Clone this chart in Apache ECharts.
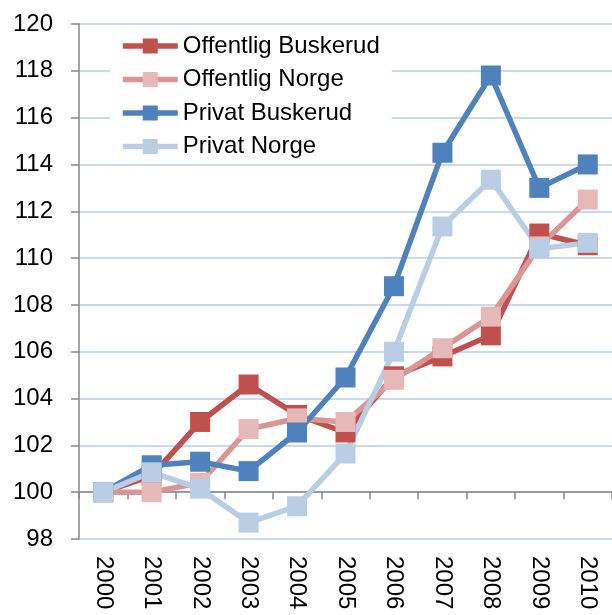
<!DOCTYPE html>
<html>
<head>
<meta charset="utf-8">
<script src="https://cdn.jsdelivr.net/npm/echarts@6/dist/echarts.min.js"></script>
<style>
  html, body { margin: 0; padding: 0; background: #fff; }
  #chart { width: 612px; height: 615px; }
</style>
</head>
<body>
<div id="chart"></div>
<script>
const years = ["2000", "2001", "2002", "2003", "2004", "2005", "2006", "2007", "2008", "2009", "2010"];
const offentligBuskerud = [100, 100.7, 103.0, 104.6, 103.3, 102.55, 104.95, 105.8, 106.7, 111.05, 110.55];
const offentligNorge = [100, 100.0, 100.4, 102.7, 103.15, 103.0, 104.8, 106.15, 107.5, 110.5, 112.5];
const privatBuskerud = [100, 101.15, 101.3, 100.9, 102.55, 104.9, 108.8, 114.5, 117.8, 113.0, 114.0];
const privatNorge = [100, 100.85, 100.15, 98.7, 99.4, 101.65, 106.0, 111.35, 113.35, 110.4, 110.65];

const yMin = 98;
const yMax = 120;
const crossAt = 100;

const font = "'Liberation Sans', Arial, sans-serif";
const axisGray = "#868686";
const gridBlue = "#b9cde5";

const chartHeight = 615;
const gridTop = 24;
const gridBottom = 76;
const gridHeight = chartHeight - gridTop - gridBottom;
// excel-style x axis line crossing the value axis at 100
const crossOffset = -gridHeight * (crossAt - yMin) / (yMax - yMin);

function lineSeries(name, data, lineColor, markerColor) {
  return {
    name: name,
    type: "line",
    data: data,
    symbol: "rect",
    symbolSize: 20,
    showSymbol: true,
    lineStyle: { color: lineColor, width: 5.5 },
    itemStyle: { color: markerColor, borderColor: markerColor, borderWidth: 0 },
    emphasis: { disabled: true }
  };
}

let chart = echarts.init(document.getElementById("chart"));
chart.setOption({
  animation: false,
  textStyle: { fontFamily: font },
  grid: { left: 79, right: -10, top: gridTop, bottom: gridBottom, containLabel: false },
  legend: {
    orient: "vertical",
    left: 110,
    top: 29,
    backgroundColor: "#fff",
    padding: [5, 12, 5, 10],
    itemWidth: 55,
    itemHeight: 18.75,
    itemGap: 9.5,
    lineStyle: { width: 5.5 },
    textStyle: { fontSize: 24, lineHeight: 24, color: "#000", fontFamily: font },
    data: ["Offentlig Buskerud", "Offentlig Norge", "Privat Buskerud", "Privat Norge"]
  },
  xAxis: [
    {
      type: "category",
      data: years,
      boundaryGap: true,
      axisLine: { show: false },
      axisTick: { show: false },
      splitLine: { show: false },
      axisLabel: { rotate: -90, margin: 17, fontSize: 24, color: "#000", fontFamily: font, interval: 0 }
    },
    {
      type: "category",
      data: years,
      position: "bottom",
      offset: crossOffset,
      boundaryGap: true,
      axisLine: { show: true, onZero: false, lineStyle: { color: axisGray, width: 1.5 } },
      axisTick: { show: true, length: 7, lineStyle: { color: axisGray, width: 1.5 } },
      axisLabel: { show: false },
      splitLine: { show: false }
    }
  ],
  yAxis: {
    type: "value",
    min: yMin,
    max: yMax,
    interval: 2,
    axisLine: { show: true, lineStyle: { color: axisGray, width: 1.5 } },
    axisTick: { show: true, length: 8, lineStyle: { color: axisGray, width: 1.5 } },
    axisLabel: { margin: 26, fontSize: 24, color: "#000", fontFamily: font },
    splitLine: { show: true, lineStyle: { color: gridBlue, width: 1.5 } }
  },
  series: [
    lineSeries("Offentlig Buskerud", offentligBuskerud, "#c0504d", "#c0504d"),
    lineSeries("Offentlig Norge", offentligNorge, "#d99694", "#e6b9b8"),
    lineSeries("Privat Buskerud", privatBuskerud, "#4f81bd", "#4f81bd"),
    lineSeries("Privat Norge", privatNorge, "#b9cde5", "#b9cde5")
  ]
});
</script>
</body>
</html>
